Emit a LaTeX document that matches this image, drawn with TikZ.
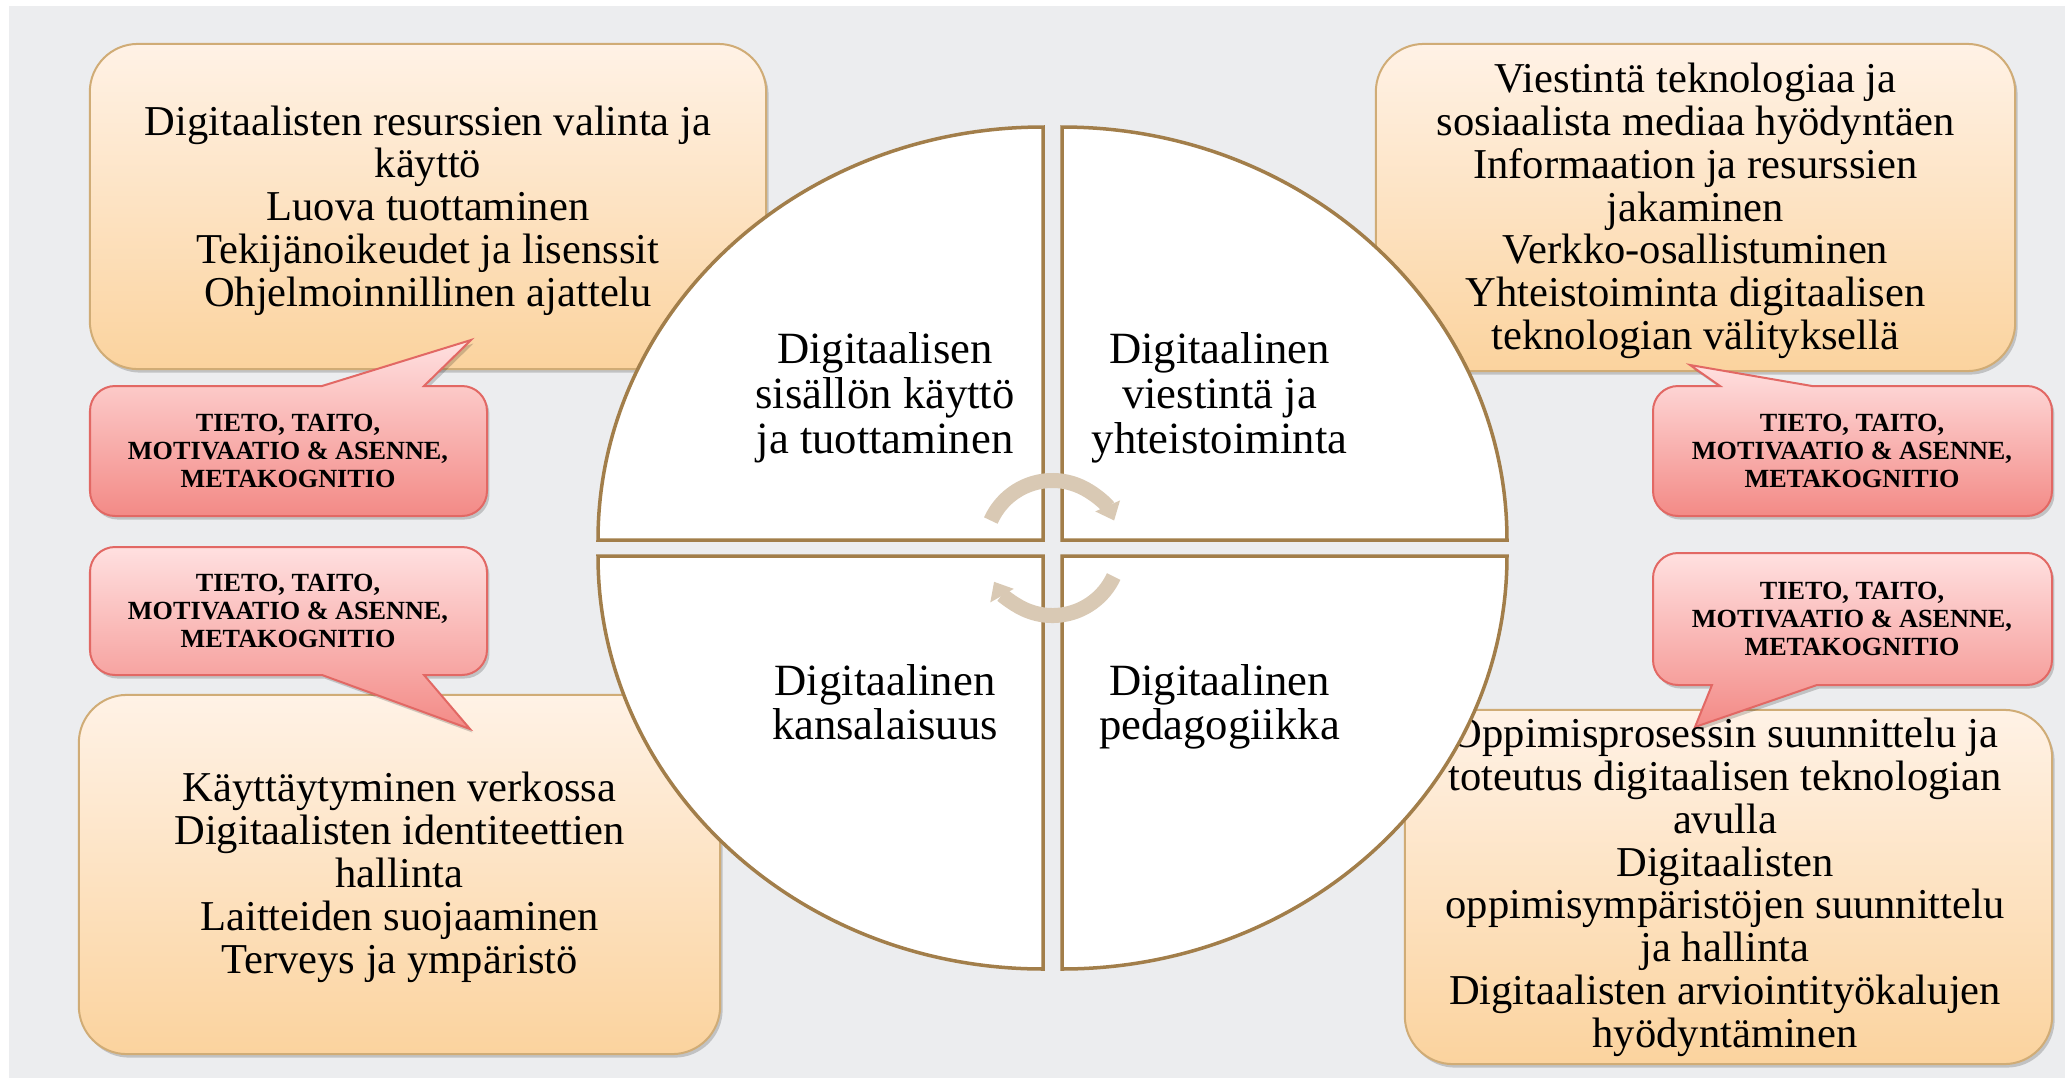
\documentclass[tikz,border=0pt]{standalone}
\usepackage{fontspec}
\setmainfont{Liberation Serif}
\usetikzlibrary{arrows.meta,shadows}

\definecolor{bggray}{RGB}{236,237,239}
\definecolor{rimbrown}{RGB}{162,126,74}
\definecolor{arrowtan}{RGB}{217,201,180}
\definecolor{otop}{RGB}{255,242,230}
\definecolor{obot}{RGB}{251,211,158}
\definecolor{oline}{RGB}{208,172,118}
\definecolor{rtop}{RGB}{255,224,224}
\definecolor{rbot}{RGB}{243,138,134}
\definecolor{rline}{RGB}{226,104,100}

\tikzset{
  softshadow/.style={drop shadow={shadow xshift=0.7pt, shadow yshift=-1pt, fill=black, opacity=0.18}},
  obox/.style={rounded corners=0.48cm, draw=oline, line width=0.02cm,
    top color=otop, bottom color=obot, inner sep=0pt, softshadow},
  rbub/.style={draw=rline, line width=0.02cm, top color=rtop, bottom color=rbot, softshadow},
  struts/.style={execute at begin node=\strut, execute at end node=\strut},
  otext/.style={align=center, inner sep=0pt, struts, font=\fontsize{12.1}{12.18}\selectfont},
  rtext/.style={align=center, inner sep=0pt, font=\fontsize{7.45}{7.9}\selectfont\bfseries},
  qtext/.style={align=center, inner sep=0pt, struts, font=\fontsize{12.7}{12.75}\selectfont},
  quad/.style={fill=white, draw=rimbrown, line width=0.035cm},
  cyc/.style={draw=arrowtan, line width=0.15cm, -{Triangle[width=0.26cm,length=0.16cm]}}
}

% speech bubble with its tail on the top edge: x0 y0 x1 y1 base1 base2 tipx tipy
\newcommand\bubbleup[8]{%
  \path[rbub] (#1+25,#2) -- (#5,#2) -- (#7,#8) -- (#6,#2) -- (#3-25,#2)
    arc[start angle=-90,end angle=0,radius=25] -- (#3,#4-25)
    arc[start angle=0,end angle=90,radius=25] -- (#1+25,#4)
    arc[start angle=90,end angle=180,radius=25] -- (#1,#2+25)
    arc[start angle=180,end angle=270,radius=25] -- cycle;}
% speech bubble with its tail on the bottom edge
\newcommand\bubbledown[8]{%
  \path[rbub] (#1+25,#2) -- (#3-25,#2)
    arc[start angle=-90,end angle=0,radius=25] -- (#3,#4-25)
    arc[start angle=0,end angle=90,radius=25] -- (#6,#4) -- (#7,#8) -- (#5,#4) -- (#1+25,#4)
    arc[start angle=90,end angle=180,radius=25] -- (#1,#2+25)
    arc[start angle=180,end angle=270,radius=25] -- cycle;}

\begin{document}
\begin{tikzpicture}[x=0.01cm, y=-0.01cm]
  \useasboundingbox (0,0) rectangle (2065,1078);
  \fill[white] (0,0) rectangle (2065,1078);
  \fill[bggray] (9,6) rectangle (2065,1078);

  % content boxes
  \node[obox, minimum width=6.76cm, minimum height=3.25cm] (tlbox) at (428,206.5) {};
  \node[obox, minimum width=6.39cm, minimum height=3.27cm] (trbox) at (1695.5,207.5) {};
  \node[obox, minimum width=6.41cm, minimum height=3.59cm] (blbox) at (399.5,874.5) {};
  \node[obox, minimum width=6.47cm, minimum height=3.54cm] (brbox) at (1728.5,887) {};

  % competence bubbles
  \bubbleup{90}{386}{487}{516}{322}{424}{471}{340}
  \bubbledown{90}{547}{487}{675}{322}{424}{470}{729}
  \bubbleup{1653}{386}{2052}{516}{1720}{1812}{1690}{365}
  \bubbledown{1653}{553}{2052}{685}{1712}{1817}{1695}{727}

  \node[rtext] (tlred) at (288,451) {TIETO, TAITO,\\MOTIVAATIO \& ASENNE,\\METAKOGNITIO};
  \node[rtext] (blred) at (288,611) {TIETO, TAITO,\\MOTIVAATIO \& ASENNE,\\METAKOGNITIO};
  \node[rtext] (trred) at (1852,451) {TIETO, TAITO,\\MOTIVAATIO \& ASENNE,\\METAKOGNITIO};
  \node[rtext] (brred) at (1852,619) {TIETO, TAITO,\\MOTIVAATIO \& ASENNE,\\METAKOGNITIO};

  % box texts
  \node[otext] (tltext) at (428,212.4) {Digitaalisten resurssien valinta ja\\käyttö\\Luova tuottaminen\\Tekijänoikeudet ja lisenssit\\Ohjelmoinnillinen ajattelu};
  \node[otext] (trtext) at (1695.5,212.8) {Viestintä teknologiaa ja\\sosiaalista mediaa hyödyntäen\\Informaation ja resurssien\\jakaminen\\Verkko-osallistuminen\\Yhteistoiminta digitaalisen\\teknologian välityksellä};
  \node[otext] (bltext) at (399.5,879) {Käyttäytyminen verkossa\\Digitaalisten identiteettien\\hallinta\\Laitteiden suojaaminen\\Terveys ja ympäristö};
  \node[otext] (brtext) at (1725,889.2) {Oppimisprosessin suunnittelu ja\\toteutus digitaalisen teknologian\\avulla\\Digitaalisten\\oppimisympäristöjen suunnittelu\\ja hallinta\\Digitaalisten arviointityökalujen\\hyödyntäminen};

  % the four quarters of the wheel
  \path[quad] (1043,540) -- (598,540) arc[start angle=180,end angle=270,x radius=445,y radius=413] -- cycle;
  \path[quad] (1062,540) -- (1507,540) arc[start angle=0,end angle=-90,x radius=445,y radius=413] -- cycle;
  \path[quad] (1043,556) -- (598,556) arc[start angle=180,end angle=90,x radius=445,y radius=413] -- cycle;
  \path[quad] (1062,556) -- (1507,556) arc[start angle=0,end angle=90,x radius=445,y radius=413] -- cycle;

  \node[qtext] (q1) at (885,399.4) {Digitaalisen\\sisällön käyttö\\ja tuottaminen};
  \node[qtext] (q2) at (1219.5,399.4) {Digitaalinen\\viestintä ja\\yhteistoiminta};
  \node[qtext] (q3) at (885,708.8) {Digitaalinen\\kansalaisuus};
  \node[qtext] (q4) at (1219.5,708.8) {Digitaalinen\\pedagogiikka};

  % circular arrows at the hub
  \coordinate (hub) at (1052.5,548);
  \draw[cyc] (hub) ++(-156:67.5) arc[start angle=-156,end angle=-24,radius=67.5];
  \draw[cyc] (hub) ++(25:67.5) arc[start angle=25,end angle=150,radius=67.5];
\end{tikzpicture}
\end{document}
